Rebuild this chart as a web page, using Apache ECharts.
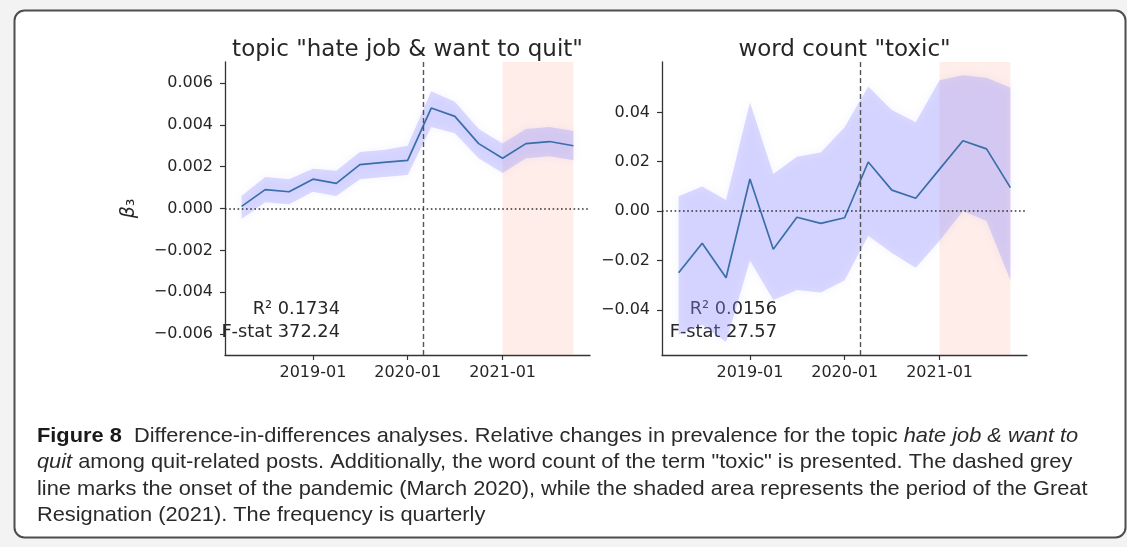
<!DOCTYPE html>
<html>
<head>
<meta charset="utf-8">
<title>Difference-in-differences analyses</title>
<script src="https://cdn.jsdelivr.net/npm/echarts@6/dist/echarts.min.js"></script>
<style>
  html, body { margin: 0; padding: 0; background: #f3f3f3; }
  #chart { width: 1127px; height: 547px; }
</style>
</head>
<body>
<div id="chart"></div>
<script>
// Quarterly periods
const quarters = ['2018-04-01', '2018-07-01', '2018-10-01', '2019-01-01', '2019-04-01',
  '2019-07-01', '2019-10-01', '2020-01-01', '2020-04-01', '2020-07-01',
  '2020-10-01', '2021-01-01', '2021-04-01', '2021-07-01', '2021-10-01'];

// topic "hate job & want to quit": coefficient and confidence band
const topicBeta  = [0.0001, 0.0009, 0.0008, 0.0014, 0.0012, 0.0021, 0.0022, 0.0023, 0.0048, 0.0044, 0.0031, 0.0024, 0.0031, 0.0032, 0.0030];
const topicUpper = [0.0006, 0.0015, 0.0014, 0.0019, 0.0018, 0.0027, 0.0028, 0.0030, 0.0056, 0.0051, 0.0038, 0.0031, 0.0038, 0.0039, 0.0037];
const topicLower = [-0.0005, 0.0003, 0.0002, 0.0008, 0.0006, 0.0014, 0.0015, 0.0016, 0.0039, 0.0036, 0.0024, 0.0017, 0.0024, 0.0025, 0.0023];

// word count "toxic": coefficient and confidence band
const toxicBeta  = [-0.025, -0.013, -0.027, 0.013, -0.0155, -0.0025, -0.005, -0.0027, 0.0199, 0.0085, 0.0052, 0.017, 0.0285, 0.0252, 0.0095];
const toxicUpper = [0.006, 0.010, 0.0045, 0.044, 0.015, 0.022, 0.0237, 0.034, 0.0505, 0.041, 0.036, 0.053, 0.055, 0.054, 0.050];
const toxicLower = [-0.050, -0.046, -0.053, -0.020, -0.036, -0.032, -0.033, -0.028, -0.010, -0.017, -0.023, -0.012, 0.000, -0.004, -0.028];

// Tick labels
const yearTicks = ['2019-01-01', '2020-01-01', '2021-01-01'];
const topicTicks = [-0.006, -0.004, -0.002, 0, 0.002, 0.004, 0.006];
const toxicTicks = [-0.04, -0.02, 0, 0.02, 0.04];

// Events
const pandemicOnset = '2020-03-01';
const greatResignation = ['2021-01-01', '2021-10-01'];

// Fit statistics
const topicStats = { r2: '0.1734', f: '372.24' };
const toxicStats = { r2: '0.0156', f: '27.57' };

const titles = ['topic "hate job & want to quit"', 'word count "toxic"'];

const captionLines = [
  '{b|Figure 8}  Difference-in-differences analyses. Relative changes in prevalence for the topic {i|hate job & want to}',
  '{i|quit} among quit-related posts. Additionally, the word count of the term "toxic" is presented. The dashed grey',
  'line marks the onset of the pandemic (March 2020), while the shaded area represents the period of the Great',
  'Resignation (2021). The frequency is quarterly'
];

// ---- helpers ----
const day = s => { const p = s.split('-').map(Number); return new Date(p[0], p[1] - 1, p[2]).getTime(); };
const times = quarters.map(day);
const span = times[times.length - 1] - times[0];
const xMin = times[0] - 0.05 * span;
const xMax = times[times.length - 1] + 0.05 * span;
const minus = '\u2212';
const fmt = d => v => (v < -1e-12 ? minus : '') + Math.abs(v).toFixed(d);
const ym = v => { const d = new Date(v); return d.getFullYear() + '-' + String(d.getMonth() + 1).padStart(2, '0'); };

const MPL = 'DejaVu Sans';
const INK = '#262626';
const LINE = '#3a6ea8';
const BAND = 'rgba(140, 140, 255, 0.30)';
const PINK = 'rgba(250, 140, 120, 0.16)';
const TICK_FONT = 16;

const grids = [
  { left: 225, top: 62, width: 365, height: 293 },
  { left: 662, top: 62, width: 365, height: 293 }
];

function xAxisFor(i) {
  const tv = yearTicks.map(day);
  return {
    type: 'value', gridIndex: i, min: xMin, max: xMax, scale: true,
    axisLine: { onZero: false, lineStyle: { color: '#333', width: 1.3 } },
    axisTick: { show: true, length: 5, customValues: tv, lineStyle: { color: '#333', width: 1.2 } },
    axisLabel: { customValues: tv, margin: 10, fontSize: TICK_FONT, fontFamily: MPL, color: INK, formatter: ym },
    splitLine: { show: false }
  };
}

function yAxisFor(i, min, max, ticks, dec, extra) {
  return Object.assign({
    type: 'value', gridIndex: i, min: min, max: max,
    axisLine: { show: true, onZero: false, lineStyle: { color: '#333', width: 1.3 } },
    axisTick: { show: true, length: 5, customValues: ticks, lineStyle: { color: '#333', width: 1.2 } },
    axisLabel: { customValues: ticks, margin: 12, fontSize: TICK_FONT, fontFamily: MPL, color: INK, formatter: fmt(dec) },
    splitLine: { show: false }
  }, extra || {});
}

// Confidence band drawn as one polygon through the axis scales
function bandSeries(i, lower, upper) {
  return {
    type: 'custom', xAxisIndex: i, yAxisIndex: i, z: 1, silent: true,
    data: times.map((t, k) => [t, lower[k], upper[k]]),
    encode: { x: 0, y: [1, 2] },
    renderItem: (params, api) => {
      if (params.dataIndex !== 0) return null;
      const pts = [];
      for (let k = 0; k < times.length; k++) pts.push(api.coord([times[k], upper[k]]));
      for (let k = times.length - 1; k >= 0; k--) pts.push(api.coord([times[k], lower[k]]));
      return {
        type: 'polygon', shape: { points: pts },
        style: { fill: BAND, stroke: null, shadowBlur: 8, shadowColor: 'rgba(150, 140, 255, 0.35)' }
      };
    }
  };
}

function lineSeries(i, values) {
  return {
    type: 'line', xAxisIndex: i, yAxisIndex: i, z: 3, silent: true,
    data: times.map((t, k) => [t, values[k]]),
    showSymbol: false, symbol: 'none',
    lineStyle: { color: LINE, width: 1.7 },
    markArea: {
      silent: true,
      itemStyle: { color: PINK },
      data: [[{ xAxis: day(greatResignation[0]) }, { xAxis: day(greatResignation[1]) }]]
    },
    markLine: {
      silent: true, symbol: ['none', 'none'], label: { show: false },
      data: [
        { xAxis: day(pandemicOnset), lineStyle: { type: [5, 3], color: '#555', width: 1.4 } },
        { yAxis: 0, lineStyle: { type: [1.6, 2.6], color: '#333', width: 1.6 } }
      ]
    }
  };
}

function statTexts(g, stats) {
  const x = g.left + 115;
  return [
    { type: 'text', x: x, y: 309, style: { text: 'R\u00b2 ' + stats.r2, align: 'right', verticalAlign: 'middle', fontSize: 17.8, fontFamily: MPL, fill: INK } },
    { type: 'text', x: x, y: 332, style: { text: 'F-stat ' + stats.f, align: 'right', verticalAlign: 'middle', fontSize: 17.8, fontFamily: MPL, fill: INK } }
  ];
}

const captionFont = '"Liberation Sans", Arial, sans-serif';
const captionSize = 21;
const captionY = [436, 462.5, 489, 515.5];

const graphics = [
  { type: 'rect', z: -10, silent: true, shape: { x: 14.5, y: 10.5, width: 1111, height: 527, r: 10 },
    style: { fill: '#ffffff', stroke: '#4d4d4d', lineWidth: 2 } },
  { type: 'text', x: grids[0].left + grids[0].width / 2, y: 50, style: { text: titles[0], align: 'center', verticalAlign: 'middle', fontSize: 23, fontFamily: MPL, fill: INK } },
  { type: 'text', x: grids[1].left + grids[1].width / 2, y: 50, style: { text: titles[1], align: 'center', verticalAlign: 'middle', fontSize: 23, fontFamily: MPL, fill: INK } }
].concat(statTexts(grids[0], topicStats), statTexts(grids[1], toxicStats),
  captionLines.map((txt, k) => ({
    type: 'group', x: 37, y: captionY[k], scaleX: 1.038,
    children: [{
      type: 'text', x: 0, y: 0,
      style: {
        text: txt, align: 'left', verticalAlign: 'middle', fontSize: captionSize, fontFamily: captionFont, fill: '#2a2a2a',
        rich: {
          b: { fontWeight: 'bold', fontSize: captionSize, fontFamily: captionFont, fill: '#1a1a1a' },
          i: { fontStyle: 'italic', fontSize: captionSize, fontFamily: captionFont, fill: '#2a2a2a' }
        }
      }
    }]
  })));

const chart = echarts.init(document.getElementById('chart'), null, { renderer: 'canvas' });
chart.setOption({
  backgroundColor: '#f3f3f3',
  animation: false,
  grid: grids,
  xAxis: [xAxisFor(0), xAxisFor(1)],
  yAxis: [
    yAxisFor(0, -0.007, 0.007, topicTicks, 3, {
      name: '{g|\u03b2}{s|\u2083}', nameLocation: 'middle', nameGap: 86,
      nameTextStyle: { color: INK, rich: { g: { fontStyle: 'italic', fontSize: 19, fontFamily: MPL, color: INK }, s: { fontSize: 19, fontFamily: MPL, color: INK } } }
    }),
    yAxisFor(1, -0.0583, 0.0604, toxicTicks, 2)
  ],
  series: [
    bandSeries(0, topicLower, topicUpper),
    lineSeries(0, topicBeta),
    bandSeries(1, toxicLower, toxicUpper),
    lineSeries(1, toxicBeta)
  ],
  graphic: graphics
});
</script>
</body>
</html>
